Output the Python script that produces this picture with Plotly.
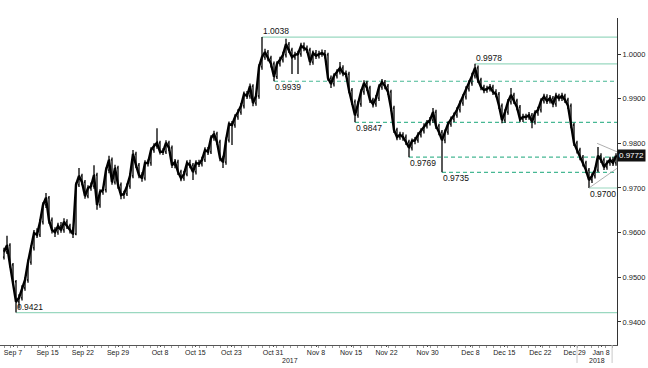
import plotly.graph_objects as go
import numpy as np

# ---------------- data ----------------
first_open = 0.9545
close = [
    0.9557, 0.9572, 0.9528, 0.9490, 0.9445, 0.9454, 0.9476, 0.9494, 0.9534, 0.9566,
    0.9599, 0.9595, 0.9624, 0.9662, 0.9678, 0.9628, 0.9606, 0.9601, 0.9615, 0.9606,
    0.9624, 0.9615, 0.9606, 0.9597, 0.9707, 0.9727, 0.9713, 0.9682, 0.9700, 0.9704,
    0.9729, 0.9662, 0.9691, 0.9696, 0.9740, 0.9763, 0.9713, 0.9745, 0.9707, 0.9684,
    0.9687, 0.9704, 0.9727, 0.9776, 0.9751, 0.9729, 0.9722, 0.9756, 0.9756, 0.9785,
    0.9794, 0.9801, 0.9781, 0.9781, 0.9801, 0.9790, 0.9751, 0.9758, 0.9736, 0.9722,
    0.9731, 0.9756, 0.9751, 0.9736, 0.9756, 0.9754, 0.9763, 0.9785, 0.9781, 0.9812,
    0.9821, 0.9803, 0.9767, 0.9758, 0.9807, 0.9843, 0.9841, 0.9859, 0.9870, 0.9884,
    0.9910, 0.9906, 0.9928, 0.9890, 0.9906, 0.9971, 0.9993, 1.0004, 0.9991, 0.9978,
    0.9949, 0.9978, 0.9987, 0.9998, 1.0022, 1.0009, 0.9993, 0.9998, 1.0000, 1.0018,
    1.0013, 1.0009, 0.9982, 1.0002, 0.9996, 1.0000, 1.0002, 0.9998, 0.9946, 0.9933,
    0.9951, 0.9960, 0.9969, 0.9957, 0.9955, 0.9919, 0.9893, 0.9863, 0.9888, 0.9915,
    0.9935, 0.9924, 0.9897, 0.9888, 0.9901, 0.9926, 0.9937, 0.9928, 0.9915, 0.9879,
    0.9830, 0.9814, 0.9819, 0.9814, 0.9803, 0.9790, 0.9805, 0.9807, 0.9819, 0.9828,
    0.9839, 0.9846, 0.9852, 0.9870, 0.9839, 0.9825, 0.9807, 0.9825, 0.9843, 0.9854,
    0.9863, 0.9875, 0.9890, 0.9904, 0.9922, 0.9935, 0.9951, 0.9969, 0.9942, 0.9926,
    0.9919, 0.9922, 0.9926, 0.9915, 0.9910, 0.9884, 0.9852, 0.9870, 0.9893, 0.9908,
    0.9895, 0.9881, 0.9854, 0.9859, 0.9859, 0.9863, 0.9848, 0.9868, 0.9875, 0.9895,
    0.9904, 0.9895, 0.9901, 0.9888, 0.9906, 0.9901, 0.9906, 0.9897, 0.9884, 0.9841,
    0.9801, 0.9785, 0.9769, 0.9756, 0.9740, 0.9718, 0.9727, 0.9740, 0.9772, 0.9763,
    0.9747, 0.9756, 0.9763, 0.9756, 0.9772,
]
high = [
    0.9566, 0.9593, 0.9576, 0.9532, 0.9494, 0.9462, 0.9482, 0.9500, 0.9540, 0.9572,
    0.9606, 0.9610, 0.9630, 0.9668, 0.9689, 0.9682, 0.9634, 0.9612, 0.9622, 0.9624,
    0.9632, 0.9630, 0.9620, 0.9612, 0.9712, 0.9745, 0.9732, 0.9718, 0.9706, 0.9712,
    0.9751, 0.9734, 0.9697, 0.9703, 0.9746, 0.9772, 0.9768, 0.9752, 0.9750, 0.9712,
    0.9694, 0.9710, 0.9733, 0.9785, 0.9781, 0.9756, 0.9735, 0.9762, 0.9764, 0.9791,
    0.9800, 0.9834, 0.9806, 0.9789, 0.9807, 0.9806, 0.9795, 0.9765, 0.9763, 0.9741,
    0.9738, 0.9762, 0.9763, 0.9756, 0.9762, 0.9763, 0.9770, 0.9791, 0.9792, 0.9818,
    0.9828, 0.9826, 0.9808, 0.9772, 0.9813, 0.9849, 0.9850, 0.9865, 0.9876, 0.9890,
    0.9916, 0.9917, 0.9934, 0.9932, 0.9912, 0.9977, 1.0038, 1.0012, 1.0009, 0.9996,
    0.9983, 0.9984, 0.9994, 1.0005, 1.0034, 1.0027, 1.0014, 1.0005, 1.0007, 1.0025,
    1.0026, 1.0019, 1.0014, 1.0008, 1.0009, 1.0007, 1.0010, 1.0009, 1.0003, 0.9952,
    0.9957, 0.9966, 0.9982, 0.9975, 0.9963, 0.9960, 0.9924, 0.9898, 0.9894, 0.9921,
    0.9941, 0.9940, 0.9929, 0.9902, 0.9908, 0.9932, 0.9944, 0.9942, 0.9933, 0.9920,
    0.9884, 0.9835, 0.9826, 0.9825, 0.9820, 0.9808, 0.9811, 0.9814, 0.9825, 0.9834,
    0.9845, 0.9852, 0.9859, 0.9879, 0.9875, 0.9844, 0.9830, 0.9831, 0.9849, 0.9860,
    0.9869, 0.9881, 0.9896, 0.9910, 0.9928, 0.9941, 0.9958, 0.9978, 0.9974, 0.9947,
    0.9931, 0.9929, 0.9933, 0.9931, 0.9921, 0.9915, 0.9889, 0.9876, 0.9899, 0.9924,
    0.9913, 0.9900, 0.9886, 0.9866, 0.9866, 0.9870, 0.9868, 0.9874, 0.9882, 0.9901,
    0.9911, 0.9910, 0.9908, 0.9906, 0.9913, 0.9911, 0.9913, 0.9911, 0.9902, 0.9889,
    0.9846, 0.9806, 0.9790, 0.9774, 0.9761, 0.9745, 0.9733, 0.9746, 0.9792, 0.9778,
    0.9768, 0.9762, 0.9770, 0.9769, 0.9778,
]
low = [
    0.9540, 0.9552, 0.9522, 0.9484, 0.9421, 0.9430, 0.9448, 0.9470, 0.9488, 0.9528,
    0.9560, 0.9588, 0.9590, 0.9618, 0.9655, 0.9620, 0.9598, 0.9590, 0.9595, 0.9600,
    0.9600, 0.9608, 0.9598, 0.9588, 0.9594, 0.9702, 0.9706, 0.9676, 0.9677, 0.9694,
    0.9698, 0.9651, 0.9656, 0.9685, 0.9690, 0.9733, 0.9707, 0.9708, 0.9698, 0.9675,
    0.9676, 0.9682, 0.9698, 0.9722, 0.9745, 0.9722, 0.9714, 0.9717, 0.9748, 0.9750,
    0.9779, 0.9788, 0.9775, 0.9774, 0.9776, 0.9783, 0.9745, 0.9744, 0.9729, 0.9715,
    0.9716, 0.9726, 0.9744, 0.9718, 0.9730, 0.9747, 0.9748, 0.9758, 0.9774, 0.9776,
    0.9806, 0.9797, 0.9760, 0.9745, 0.9752, 0.9802, 0.9796, 0.9835, 0.9853, 0.9864,
    0.9878, 0.9899, 0.9900, 0.9883, 0.9884, 0.9900, 0.9965, 0.9987, 0.9984, 0.9970,
    0.9939, 0.9944, 0.9972, 0.9981, 0.9992, 1.0002, 0.9955, 0.9987, 0.9955, 0.9994,
    1.0006, 1.0002, 0.9975, 0.9976, 0.9989, 0.9990, 0.9994, 0.9990, 0.9940, 0.9924,
    0.9927, 0.9945, 0.9954, 0.9950, 0.9948, 0.9912, 0.9886, 0.9847, 0.9857, 0.9882,
    0.9909, 0.9917, 0.9890, 0.9880, 0.9882, 0.9895, 0.9920, 0.9921, 0.9908, 0.9872,
    0.9823, 0.9807, 0.9808, 0.9806, 0.9796, 0.9769, 0.9784, 0.9798, 0.9801, 0.9813,
    0.9822, 0.9833, 0.9840, 0.9846, 0.9832, 0.9818, 0.9735, 0.9800, 0.9819, 0.9837,
    0.9848, 0.9857, 0.9869, 0.9884, 0.9898, 0.9916, 0.9929, 0.9945, 0.9935, 0.9919,
    0.9912, 0.9913, 0.9916, 0.9908, 0.9903, 0.9877, 0.9845, 0.9846, 0.9864, 0.9887,
    0.9888, 0.9874, 0.9847, 0.9848, 0.9852, 0.9853, 0.9834, 0.9842, 0.9862, 0.9869,
    0.9889, 0.9888, 0.9889, 0.9881, 0.9882, 0.9894, 0.9895, 0.9890, 0.9877, 0.9834,
    0.9794, 0.9777, 0.9762, 0.9748, 0.9733, 0.9700, 0.9711, 0.9721, 0.9735, 0.9756,
    0.9740, 0.9741, 0.9750, 0.9749, 0.9750,
]

tick_labels = ["Sep 7", "Sep 15", "Sep 22", "Sep 29", "Oct 8", "Oct 15", "Oct 23", "Oct 31",
               "Nov 8", "Nov 15", "Nov 22", "Nov 30", "Dec 8", "Dec 15", "Dec 22", "Dec 29", "Jan 8"]
tick_bars = [3.0, 14.5, 26.3, 38.0, 52.0, 63.8, 75.8, 89.7, 104.0, 115.7, 127.5, 141.2,
             155.5, 166.8, 178.8, 190.2, 199.0]
year_labels = ["2017", "2018"]
year_bars = [95.3, 197.8]
year_separators = [191.0, 202.7]

# support / resistance levels marked on the chart
levels = [1.0038, 0.9978, 0.9939, 0.9847, 0.9769, 0.9735, 0.9700, 0.9421]
level_from = ["high", "high", "low", "low", "low", "low", "low", "low"]
level_solid = [True, True, False, False, False, False, True, True]
level_label_above = [True, True, False, False, False, False, False, True]

# pennant drawn over the last bars (start, end values)
pennant_upper = [0.9800, 0.9781]
pennant_lower = [0.9700, 0.9744]

# ---------------- figure ----------------
n = len(close)
x = list(range(n))
opens = [first_open] + close[:-1]
x_lo, x_hi = -1.333, n - 0.667
y_lo, y_hi = 0.93484, 1.00806
FONT = "Liberation Sans Narrow, Arial Narrow, Liberation Sans, Arial, sans-serif"

fig = go.Figure()
fig.add_trace(go.Scatter(x=x, y=close, mode="lines", line=dict(color="black", width=2.4),
                         hoverinfo="skip", showlegend=False))
fig.add_trace(go.Ohlc(
    x=x, open=opens, high=high, low=low, close=close,
    increasing=dict(line=dict(color="black", width=1.3)),
    decreasing=dict(line=dict(color="black", width=1.3)),
    tickwidth=0.35, hoverinfo="skip", showlegend=False,
))

SOLID_C = "#9ad8c0"
DASH_C = "#47b894"
hi_arr = np.array(high)
lo_arr = np.array(low)
for lv, src, solid, above in zip(levels, level_from, level_solid, level_label_above):
    arr = hi_arr if src == "high" else lo_arr
    idx = int(np.where(np.isclose(arr, lv, atol=1e-7))[0][0])
    fig.add_shape(type="line", xref="x", yref="y", x0=idx, x1=x_hi + 5, y0=lv, y1=lv,
                  line=dict(color=SOLID_C if solid else DASH_C, width=1.2,
                            dash="solid" if solid else "4px,3px"), layer="below")
    fig.add_annotation(x=idx, y=lv, xref="x", yref="y", text=f"{lv:.4f}", showarrow=False,
                       xanchor="left", yanchor="bottom" if above else "top",
                       yshift=-1 if above else 1, xshift=-1,
                       font=dict(family=FONT, size=8.5, color="#111"))

# pennant
i_up = int(np.argmax(hi_arr[-10:])) + n - 10
i_dn = int(np.argmin(lo_arr[-15:])) + n - 15
fig.add_shape(type="line", x0=i_up - 0.3, x1=x_hi, y0=pennant_upper[0], y1=pennant_upper[1],
              line=dict(color="#9a9a9a", width=0.8))
fig.add_shape(type="line", x0=i_dn, x1=x_hi, y0=pennant_lower[0], y1=pennant_lower[1],
              line=dict(color="#9a9a9a", width=0.8))

# last price tag
fig.add_annotation(xref="paper", x=1.0, y=close[-1], yref="y", text=f"{close[-1]:.4f}",
                   showarrow=False, xanchor="left", bgcolor="#111", borderpad=1,
                   font=dict(family=FONT, size=8, color="white"))

# year labels and separators
for yl, yb in zip(year_labels, year_bars):
    fig.add_annotation(x=yb, y=0, xref="x", yref="paper", yshift=-10, text=yl, showarrow=False,
                       xanchor="center", yanchor="top", font=dict(family=FONT, size=7, color="#222"))
for xb in year_separators:
    fig.add_shape(type="line", xref="x", yref="paper", x0=xb, x1=xb, y0=0, y1=-0.055,
                  line=dict(color="#c8c8c8", width=1))

fig.update_layout(
    width=648, height=368,
    margin=dict(l=0, r=31, t=18, b=23),
    paper_bgcolor="white", plot_bgcolor="white",
    showlegend=False,
    xaxis=dict(range=[x_lo, x_hi], tickvals=tick_bars, ticktext=tick_labels,
               showgrid=False, zeroline=False, showline=True, linecolor="#555", linewidth=1,
               ticks="outside", ticklen=1, tickcolor="#555", ticklabeloverflow="allow",
               minor=dict(ticks="outside", ticklen=2, tickcolor="#999", dtick=2.33, tick0=0),
               tickfont=dict(family=FONT, size=7, color="#222"),
               rangeslider=dict(visible=False), fixedrange=True),
    yaxis=dict(range=[y_lo, y_hi], side="right", tickvals=[0.94, 0.95, 0.96, 0.97, 0.98, 0.99, 1.00],
               tickformat=".4f", showgrid=False, zeroline=False, showline=True,
               linecolor="#333", linewidth=1, ticks="outside", ticklen=3, tickcolor="#333",
               ticklabeloverflow="allow",
               tickfont=dict(family=FONT, size=7.5, color="#222")),
)

# the page is photographed at exactly the figure size, so drop the default body margin
fig.write_html("out.html", config={"displayModeBar": False, "staticPlot": True},
               post_script="document.body.style.margin='0';")
